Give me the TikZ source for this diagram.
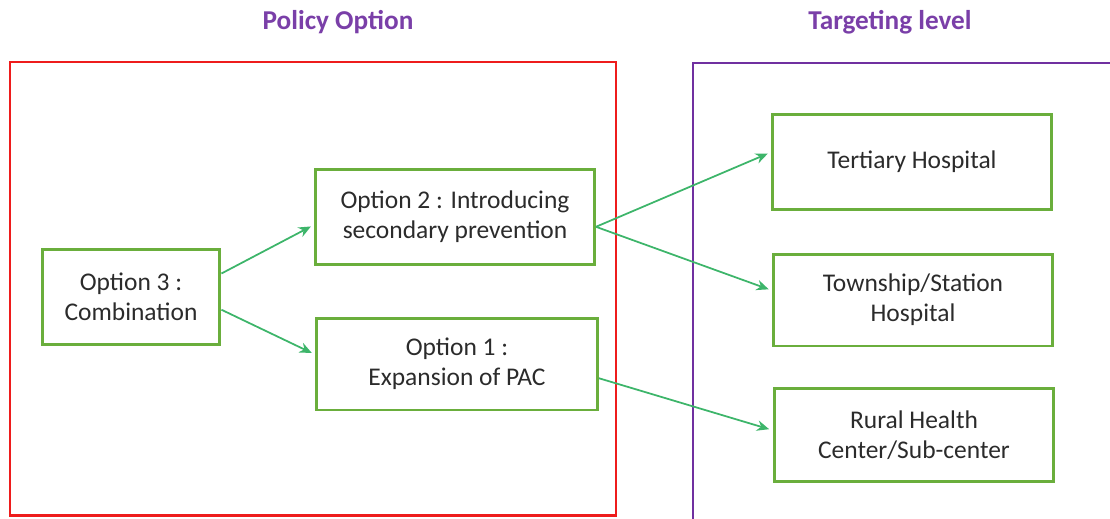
\documentclass[tikz,border=0pt]{standalone}
\usepackage{fontspec}
\setmainfont{Carlito}
\usetikzlibrary{arrows.meta,calc}
\definecolor{boxgreen}{HTML}{6AAE3C}
\definecolor{arrowgreen}{HTML}{3DB56A}
\definecolor{framered}{HTML}{EE1C1C}
\definecolor{framepurple}{HTML}{7030A0}
\definecolor{titlepurple}{HTML}{7A3FA8}
\definecolor{textgray}{HTML}{2B2B2B}

\tikzset{
  optionbox/.style={draw=boxgreen, line width=1.7pt, align=center, text=textgray,
    minimum height=1.9cm, font=\fontsize{14.5}{17}\selectfont},
  flow/.style={draw=arrowgreen, line width=1pt, -{Stealth[length=7pt,width=6pt]}, shorten >=2pt},
  title/.style={text=titlepurple, font=\bfseries\fontsize{15.5}{18}\selectfont}
}

\begin{document}
\begin{tikzpicture}[x=0.02cm,y=-0.02cm]
    \useasboundingbox (0,0) rectangle (1110,518);

    % Rahmen
    \draw[framered, line width=1.7pt] (10,62) rectangle (616,515);
    \draw[framepurple, line width=1.7pt] (1115,63) -- (693,63) -- (693,525);

    % Titel
    \node[title] (policy) at (338,22) {Policy Option};
    \node[title] (target) at (890,22) {Targeting level};

    % Optionen
    \node[optionbox, minimum width=3.56cm] (opt3) at (131,297) {Option 3 :\\Combination};
    \node[optionbox, minimum width=5.58cm] (opt2) at (455,217) {Option 2 : Introducing\\secondary prevention};
    \node[optionbox, minimum width=5.62cm, minimum height=1.84cm] (opt1) at (457,364) {Option 1 :\\Expansion of PAC};

    % Ebenen
    \node[optionbox, minimum width=5.58cm] (tert) at (912,162) {Tertiary Hospital};
    \node[optionbox, minimum width=5.58cm, minimum height=1.84cm] (town) at (913,300) {Township/Station\\Hospital};
    \node[optionbox, minimum width=5.6cm, minimum height=1.86cm] (rural) at (914,435) {Rural Health\\Center/Sub-center};

    % Pfeile
    \draw[flow] ($(opt3.north east)!0.26!(opt3.south east)$) -- ($(opt2.north west)!0.58!(opt2.south west)$);
    \draw[flow] ($(opt3.north east)!0.63!(opt3.south east)$) -- ($(opt1.north west)!0.40!(opt1.south west)$);
    \draw[flow] ($(opt2.north east)!0.60!(opt2.south east)$) -- ($(tert.north west)!0.40!(tert.south west)$);
    \draw[flow] ($(opt2.north east)!0.60!(opt2.south east)$) -- ($(town.north west)!0.40!(town.south west)$);
    \draw[flow] ($(opt1.north east)!0.65!(opt1.south east)$) -- ($(rural.north west)!0.45!(rural.south west)$);
\end{tikzpicture}
\end{document}
